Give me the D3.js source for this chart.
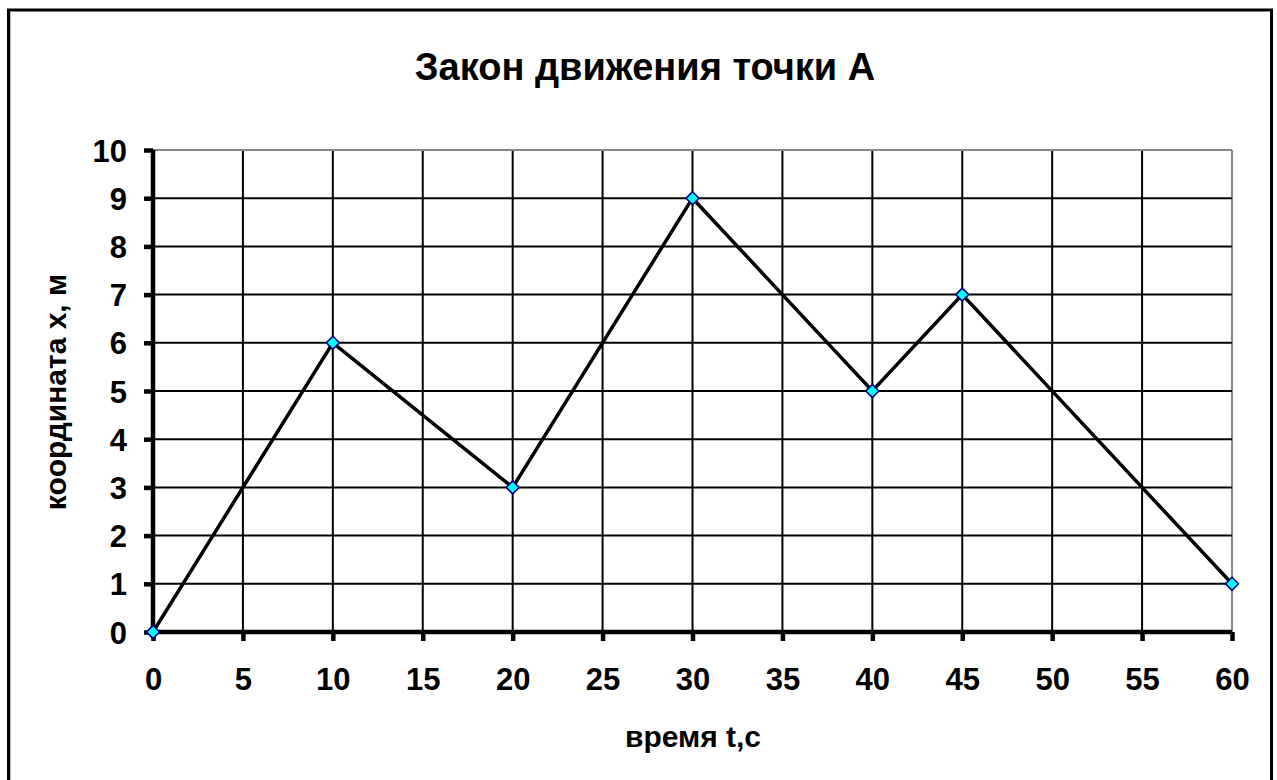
<!DOCTYPE html>
<html>
<head>
<meta charset="utf-8">
<script src="https://cdn.jsdelivr.net/npm/d3@7"></script>
<style>
  html, body { margin: 0; padding: 0; background: #fff; }
  svg { display: block; font-family: "Liberation Sans", Arial, sans-serif; }
</style>
</head>
<body>
<svg id="chart" width="1277" height="780"></svg>
<script>
// Motion law of point A: time (s) vs coordinate (m)
const times = [0, 10, 20, 30, 40, 45, 60];
const coords = [0, 6, 3, 9, 5, 7, 1];
const xTicks = [0, 5, 10, 15, 20, 25, 30, 35, 40, 45, 50, 55, 60];
const yTicks = [0, 1, 2, 3, 4, 5, 6, 7, 8, 9, 10];
const titleText = "Закон движения точки А";
const xTitle = "время t,с";
const yTitle = "координата х, м";

const svg = d3.select("#chart");
const W = 1277, H = 780;

// outer frame (no bottom edge within view)
svg.append("path")
  .attr("d", `M8.5,${H + 5} V10 H1271.5 V${H + 5}`)
  .attr("fill", "none").attr("stroke", "#000").attr("stroke-width", 3);
svg.append("line").attr("x1", 10.5).attr("x2", 10.5).attr("y1", 12).attr("y2", H)
  .attr("stroke", "#bbb").attr("stroke-width", 1);

const x = d3.scaleLinear().domain([0, 60]).range([153, 1232]);
const y = d3.scaleLinear().domain([0, 10]).range([632, 150]);

// grid
const grid = svg.append("g");
grid.selectAll("line.v").data(xTicks.filter(d => d > 0)).join("line")
  .attr("x1", d => x(d)).attr("x2", d => x(d))
  .attr("y1", y(10)).attr("y2", y(0))
  .attr("stroke", d => d === 60 ? "#888" : "#000").attr("stroke-width", 2);
grid.selectAll("line.h").data(yTicks.filter(d => d > 0)).join("line")
  .attr("x1", x(0)).attr("x2", x(60))
  .attr("y1", d => y(d)).attr("y2", d => y(d))
  .attr("stroke", d => d === 10 ? "#888" : "#000").attr("stroke-width", 2);

// axes
const xAxis = svg.append("g").attr("transform", `translate(0,${y(0)})`)
  .call(d3.axisBottom(x).tickValues(xTicks).tickSize(9).tickPadding(0).tickFormat(d3.format("d")));
const yAxis = svg.append("g").attr("transform", `translate(${x(0)},0)`)
  .call(d3.axisLeft(y).tickValues(yTicks).tickSize(9).tickPadding(17).tickFormat(d3.format("d")));
[xAxis, yAxis].forEach(a => {
  a.select(".domain").attr("stroke", "#000").attr("stroke-width", 4.5);
  a.selectAll(".tick line").attr("stroke", "#000").attr("stroke-width", 4.5);
  a.selectAll(".tick text").attr("fill", "#000")
    .style("font-size", "31px").style("font-weight", "bold")
    .style("font-family", "'Liberation Sans', Arial, sans-serif");
});
xAxis.select(".domain").attr("d", `M${x(0)},0H${x(60)}`);
yAxis.select(".domain").attr("d", `M0,${y(0)}V${y(10)}`);
xAxis.selectAll(".tick text").attr("dy", null).attr("y", 58);
yAxis.selectAll(".tick text").attr("dy", "0.36em");

// data line
svg.append("path")
  .datum(times.map((t, i) => [t, coords[i]]))
  .attr("fill", "none").attr("stroke", "#000").attr("stroke-width", 3.5)
  .attr("stroke-linejoin", "miter")
  .attr("d", d3.line().x(d => x(d[0])).y(d => y(d[1])));

// markers
svg.selectAll("path.mk").data(times.map((t, i) => [t, coords[i]])).join("path")
  .attr("class", "mk")
  .attr("transform", d => `translate(${x(d[0])},${y(d[1])})`)
  .attr("d", "M0,-6.5L6.5,0L0,6.5L-6.5,0Z")
  .attr("fill", "#00ffff").attr("stroke", "#000080").attr("stroke-width", 1.6);

// titles
svg.append("text").attr("x", 645).attr("y", 80).attr("text-anchor", "middle")
  .style("font-size", "38px").style("font-weight", "bold").text(titleText);
svg.append("text").attr("x", 693).attr("y", 747).attr("text-anchor", "middle")
  .style("font-size", "30px").style("font-weight", "bold").text(xTitle);
svg.append("text").attr("transform", "translate(66,392) rotate(-90)").attr("text-anchor", "middle")
  .style("font-size", "30px").style("font-weight", "bold").text(yTitle);
</script>
</body>
</html>
